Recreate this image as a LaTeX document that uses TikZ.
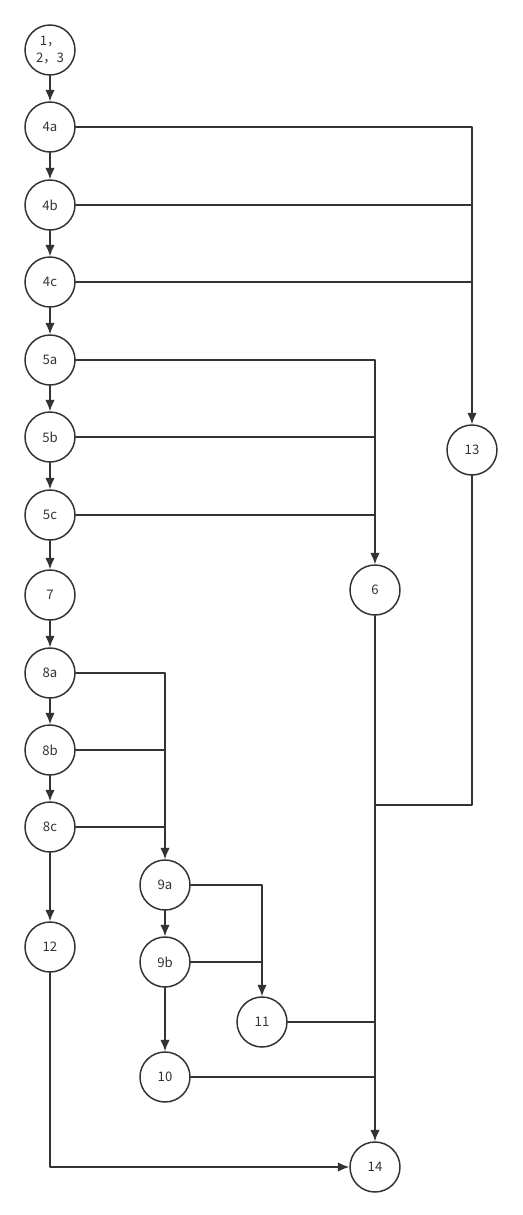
\documentclass[tikz,border=0pt]{standalone}
\usepackage{fontspec}
\setmainfont{Noto Sans CJK SC}
\usetikzlibrary{arrows.meta}
\definecolor{inkgray}{HTML}{333333}
\begin{document}
\begin{tikzpicture}[x=0.02cm, y=-0.02cm, line cap=round, line join=round,
    >={Latex[length=6.5pt,width=5.4pt]}]

% --- Global TikZ Styles for Consistency ---
\tikzset{
    state/.style={
        circle,
        draw=inkgray,
        line width=0.85pt,
        minimum size=1cm,
        inner sep=0pt,
        text=inkgray,
        font=\fontsize{7.5}{10}\selectfont,
        align=center
    },
    flow/.style={
        ->,
        draw=inkgray,
        line width=0.85pt
    },
    wire/.style={
        draw=inkgray,
        line width=0.85pt
    }
}

\useasboundingbox (0,0) rectangle (522,1215);

% =========================================================================
% --- Nodes ---
% =========================================================================
\node[state] (n123) at (50,50)   {1，\\2，3};
\node[state] (n4a)  at (50,127)  {4a};
\node[state] (n4b)  at (50,205)  {4b};
\node[state] (n4c)  at (50,282)  {4c};
\node[state] (n5a)  at (50,360)  {5a};
\node[state] (n5b)  at (50,437)  {5b};
\node[state] (n5c)  at (50,515)  {5c};
\node[state] (n7)   at (50,595)  {7};
\node[state] (n8a)  at (50,673)  {8a};
\node[state] (n8b)  at (50,750)  {8b};
\node[state] (n8c)  at (50,827)  {8c};
\node[state] (n12)  at (50,947)  {12};

\node[state] (n13)  at (472,450) {13};
\node[state] (n6)   at (375,590) {6};

\node[state] (n9a)  at (165,885)  {9a};
\node[state] (n9b)  at (165,962)  {9b};
\node[state] (n10)  at (165,1077) {10};
\node[state] (n11)  at (262,1022) {11};
\node[state] (n14)  at (375,1167) {14};

\coordinate (j13) at (375,805); % where the branch from 13 joins

% =========================================================================
% --- Main column ---
% =========================================================================
\foreach \a/\b in {n123/n4a, n4a/n4b, n4b/n4c, n4c/n5a, n5a/n5b, n5b/n5c,
                   n5c/n7, n7/n8a, n8a/n8b, n8b/n8c, n8c/n12, n9a/n9b, n9b/n10}
    \draw[flow] (\a) -- (\b);

% --- Branches to 13 ---
\draw[flow] (n4a) -| (n13);
\draw[wire] (n4b) -- (n4b -| n13);
\draw[wire] (n4c) -- (n4c -| n13);

% --- Branches to 6 ---
\draw[flow] (n5a) -| (n6);
\draw[wire] (n5b) -- (n5b -| n6);
\draw[wire] (n5c) -- (n5c -| n6);

% --- Branches to 9a ---
\draw[flow] (n8a) -| (n9a);
\draw[wire] (n8b) -- (n8b -| n9a);
\draw[wire] (n8c) -- (n8c -| n9a);

% --- Branches to 11 ---
\draw[flow] (n9a) -| (n11);
\draw[wire] (n9b) -- (n9b -| n11);

% --- Collecting into 14 ---
\draw[flow] (n6) -- (n14);
\draw[wire] (n13) |- (j13);
\draw[wire] (n11) -- (n11 -| n14);
\draw[wire] (n10) -- (n10 -| n14);
\draw[flow] (n12) |- (n14);

\end{tikzpicture}
\end{document}
